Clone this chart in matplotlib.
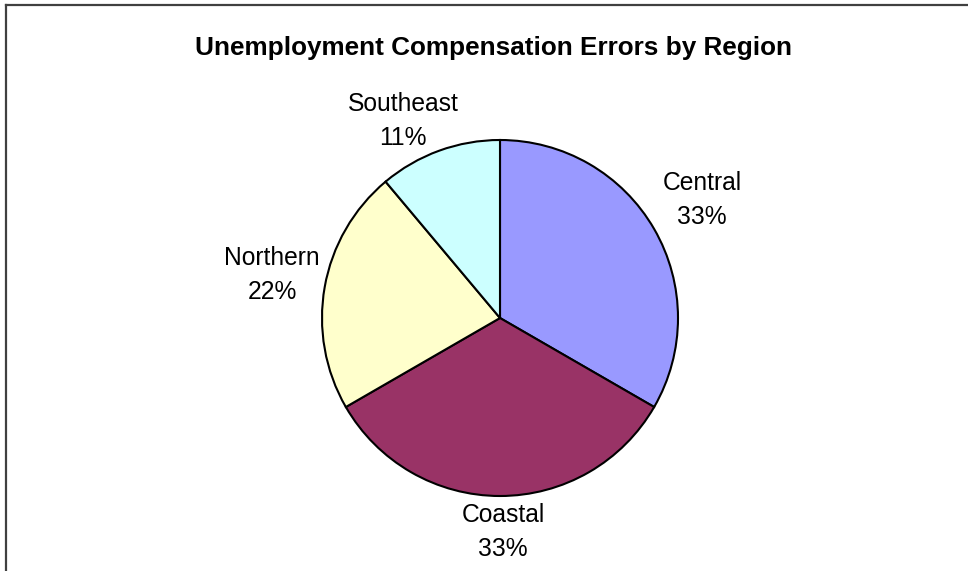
import matplotlib.pyplot as plt
from matplotlib.lines import Line2D

regions = ['Central', 'Coastal', 'Northern', 'Southeast']
errors = [3, 3, 2, 1]
colors = ['#9999FF', '#993366', '#FFFFCC', '#CCFFFF']

plt.rcParams['font.family'] = ['Liberation Sans', 'DejaVu Sans']

fig = plt.figure(figsize=(9.68, 5.71), dpi=100)
W, H = 968, 571

# pie placed in pixel terms: centre (500, 318), radius 178
cx, cy, r = 500, 318, 178
ax = fig.add_axes([(cx - r) / W, (H - cy - r) / H, 2 * r / W, 2 * r / H])

wedges, _ = ax.pie(errors, colors=colors, startangle=90, counterclock=False,
                   wedgeprops=dict(edgecolor='black', linewidth=1.5))
ax.set_xlim(-1, 1)
ax.set_ylim(-1, 1)
ax.axis('off')

# where Excel put each label, in units of the pie radius
label_pos = [(1.135, 0.663), (0.017, -1.202), (-1.281, 0.242), (-0.545, 1.107)]
total = sum(errors)
for name, val, (lx, ly) in zip(regions, errors, label_pos):
    ax.text(lx, ly, f'{name}\n{round(100 * val / total)}%',
            ha='center', va='center', fontsize=17.7, linespacing=1.56,
            clip_on=False)

fig.text(493 / W, 1 - 48 / H, 'Unemployment Compensation Errors by Region',
         ha='center', va='center', fontsize=18.8, fontweight='bold')

# chart-area border (only top and left visible in the crop)
fig.add_artist(Line2D([5.5 / W, 1], [1 - 4.5 / H, 1 - 4.5 / H],
                      color='#404040', linewidth=1.6))
fig.add_artist(Line2D([5.5 / W, 5.5 / W], [0, 1 - 4.5 / H],
                      color='#404040', linewidth=1.6))

fig.savefig('out.png', dpi=100)
